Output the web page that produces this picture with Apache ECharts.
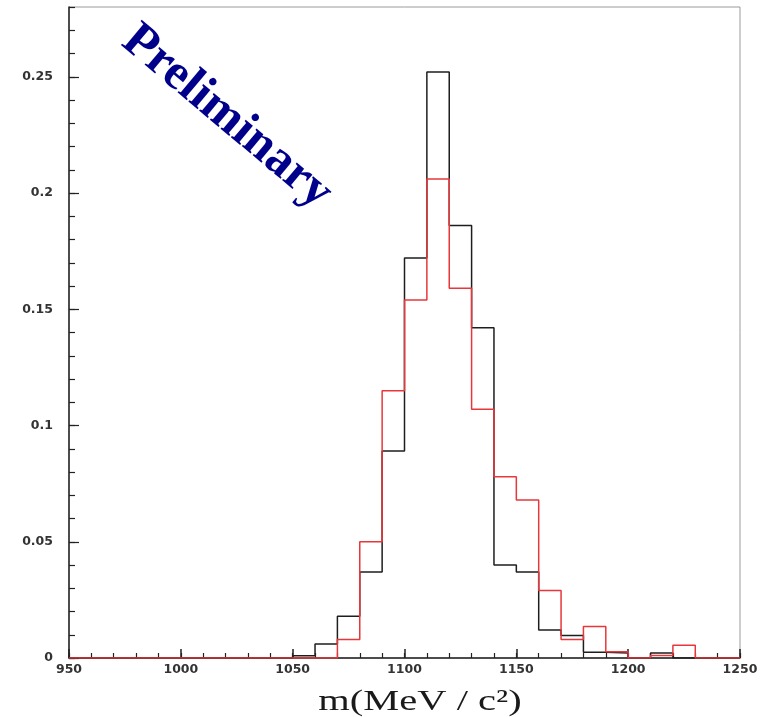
<!DOCTYPE html>
<html>
<head>
<meta charset="utf-8">
<script src="https://cdn.jsdelivr.net/npm/echarts@6/dist/echarts.min.js"></script>
<style>
  html, body { margin: 0; padding: 0; background: #ffffff; }
  #chart { width: 761px; height: 717px; }
</style>
</head>
<body>
<div id="chart"></div>
<script>
// Lower bin edges (MeV/c^2), 10 MeV wide bins
const binEdges = [950, 960, 970, 980, 990, 1000, 1010, 1020, 1030, 1040,
                  1050, 1060, 1070, 1080, 1090, 1100, 1110, 1120, 1130, 1140,
                  1150, 1160, 1170, 1180, 1190, 1200, 1210, 1220, 1230, 1240];
const upperEdge = 1250;

// Normalised histogram contents (black)
const blackValues = [0, 0, 0, 0, 0, 0, 0, 0, 0, 0,
                     0.001, 0.006, 0.018, 0.037, 0.089, 0.172, 0.252, 0.186, 0.142, 0.040,
                     0.037, 0.012, 0.0097, 0.0025, 0.0021, 0, 0.0021, 0, 0, 0];

// Normalised histogram contents (red)
const redValues = [0, 0, 0, 0, 0, 0, 0, 0, 0, 0,
                   0, 0, 0.008, 0.050, 0.115, 0.154, 0.206, 0.159, 0.107, 0.078,
                   0.068, 0.029, 0.008, 0.0135, 0.0027, 0, 0.0011, 0.0055, 0, 0];

const xTitle = 'm(MeV / c²)';
const stampText = 'Preliminary';

// Step outline: one point per bin plus closing point at the upper edge
function stepData(values) {
  const pts = binEdges.map((e, i) => [e, values[i]]);
  pts.push([upperEdge, values[values.length - 1]]);
  return pts;
}

const labelFont = {
  fontFamily: 'DejaVu Sans',
  fontWeight: 'bold',
  fontSize: 12.5,
  color: '#333'
};

const chart = echarts.init(document.getElementById('chart'), null, { renderer: 'canvas' });

chart.setOption({
  animation: false,
  backgroundColor: '#ffffff',
  grid: {
    left: 69, right: 21, top: 7, bottom: 59,
    show: true, borderColor: '#9a9a9a', borderWidth: 1
  },
  xAxis: [
    {
      type: 'value', position: 'bottom', min: 950, max: 1250, interval: 50,
      axisLine: { show: true, lineStyle: { color: '#222', width: 1.5 } },
      axisTick: { show: true, inside: true, length: 9, lineStyle: { color: '#222', width: 1.5 } },
      axisLabel: Object.assign({ margin: 5, formatter: v => String(v) }, labelFont),
      splitLine: { show: false }
    },
    {
      type: 'value', position: 'bottom', min: 950, max: 1250, interval: 10,
      axisLine: { show: false },
      axisTick: { show: true, inside: true, length: 5, lineStyle: { color: '#222', width: 1.2 } },
      axisLabel: { show: false },
      splitLine: { show: false }
    }
  ],
  yAxis: [
    {
      type: 'value', position: 'left', min: 0, max: 0.28, interval: 0.05,
      axisLine: { show: true, lineStyle: { color: '#222', width: 1.5 } },
      axisTick: { show: true, inside: true, length: 10, lineStyle: { color: '#222', width: 1.2 } },
      axisLabel: Object.assign({ margin: 16, showMaxLabel: false }, labelFont),
      splitLine: { show: false }
    },
    {
      type: 'value', position: 'left', min: 0, max: 0.28, interval: 0.01,
      axisLine: { show: false },
      axisTick: { show: true, inside: true, length: 6, lineStyle: { color: '#222', width: 1.2 } },
      axisLabel: { show: false },
      splitLine: { show: false }
    }
  ],
  series: [
    {
      type: 'line', step: 'end', xAxisIndex: 0, yAxisIndex: 0,
      data: stepData(blackValues), showSymbol: false, symbol: 'none',
      lineStyle: { color: '#1e1e1e', width: 1.5 }, z: 3
    },
    {
      type: 'line', step: 'end', xAxisIndex: 0, yAxisIndex: 0,
      data: stepData(redValues), showSymbol: false, symbol: 'none',
      lineStyle: { color: '#e8373a', width: 1.5 }, z: 4
    }
  ],
  graphic: [
    {
      type: 'text', x: 420, y: 702, scaleX: 1.35,
      style: {
        text: xTitle,
        font: '30px "Liberation Serif", "DejaVu Serif", serif',
        fill: '#1a1a1a', align: 'center', verticalAlign: 'middle'
      }
    },
    {
      type: 'text', x: 227, y: 117, rotation: -40 * Math.PI / 180,
      style: {
        text: stampText,
        font: 'bold 50px "Liberation Serif", "DejaVu Serif", serif',
        fill: '#00008b', align: 'center', verticalAlign: 'middle'
      }
    }
  ]
});
</script>
</body>
</html>
